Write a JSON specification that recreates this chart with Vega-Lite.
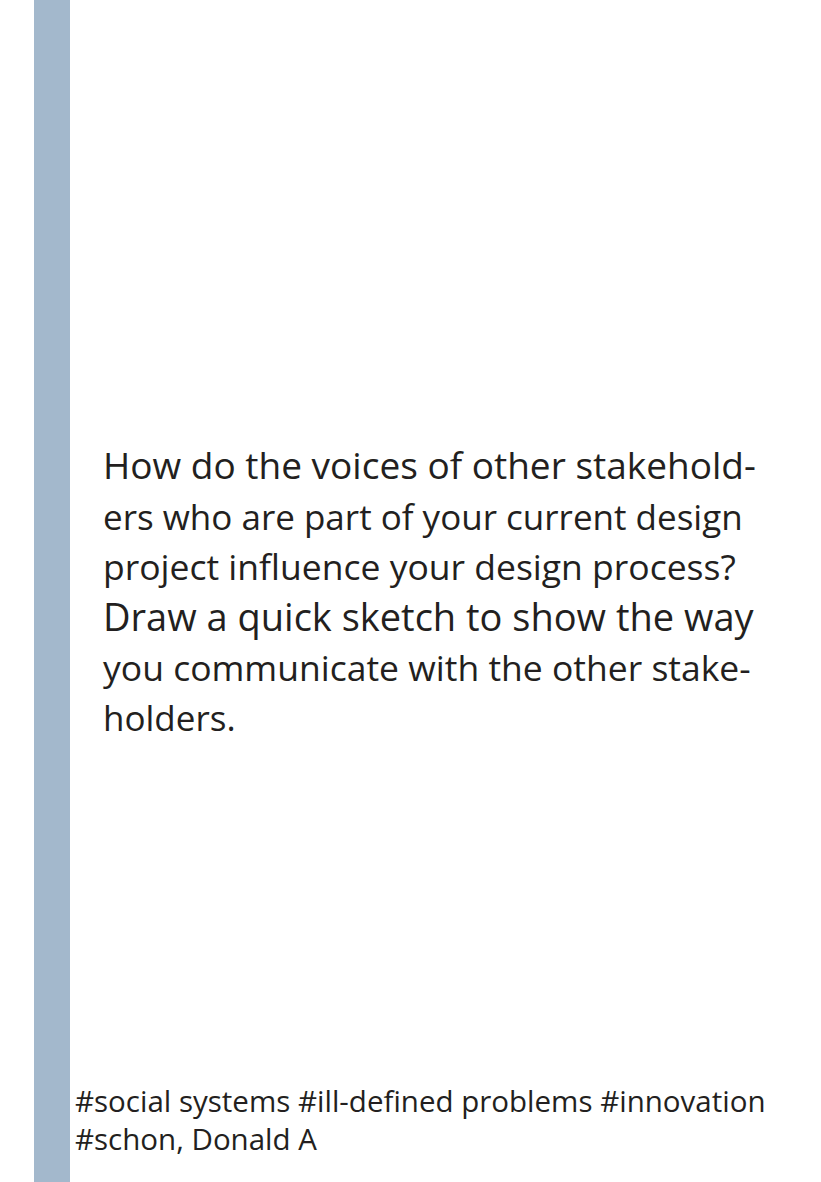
{
  "$schema": "https://vega.github.io/schema/vega-lite/v6.json",
  "width": 821,
  "height": 1182,
  "autosize": {"type": "fit", "contains": "padding"},
  "padding": 0,
  "background": "#ffffff",
  "config": {"view": {"stroke": null}},
  "datasets": {
    "band": [{"x0": 34, "x1": 70, "y0": 0, "y1": 1182}],
    "lines": [
      {"x": 103, "y": 468, "size": 37, "text": "How do the voices of other stakehold-"},
      {"x": 103, "y": 519, "size": 35, "text": "ers who are part of your current design"},
      {"x": 103, "y": 569, "size": 35.5, "text": "project influence your design process?"},
      {"x": 103, "y": 620, "size": 38, "text": "Draw a quick sketch to show the way"},
      {"x": 103, "y": 670, "size": 35.5, "text": "you communicate with the other stake-"},
      {"x": 103, "y": 720, "size": 35, "text": "holders."},
      {"x": 75, "y": 1103, "size": 29.5, "text": "#social systems #ill-defined problems #innovation"},
      {"x": 75, "y": 1141, "size": 29.5, "text": "#schon, Donald A"}
    ]
  },
  "layer": [
    {
      "data": {"name": "band"},
      "mark": {"type": "rect", "color": "#a3b8cc"},
      "encoding": {
        "x": {"field": "x0", "type": "quantitative", "scale": {"domain": [0, 821]}, "axis": null},
        "x2": {"field": "x1"},
        "y": {"field": "y0", "type": "quantitative", "scale": {"domain": [0, 1182], "reverse": true}, "axis": null},
        "y2": {"field": "y1"}
      }
    },
    {
      "data": {"name": "lines"},
      "mark": {"type": "text", "align": "left", "baseline": "middle", "font": "Open Sans", "color": "#231f20"},
      "encoding": {
        "x": {"field": "x", "type": "quantitative", "scale": {"domain": [0, 821]}, "axis": null},
        "y": {"field": "y", "type": "quantitative", "scale": {"domain": [0, 1182], "reverse": true}, "axis": null},
        "size": {"field": "size", "type": "quantitative", "scale": null, "legend": null},
        "text": {"field": "text"}
      }
    }
  ]
}
